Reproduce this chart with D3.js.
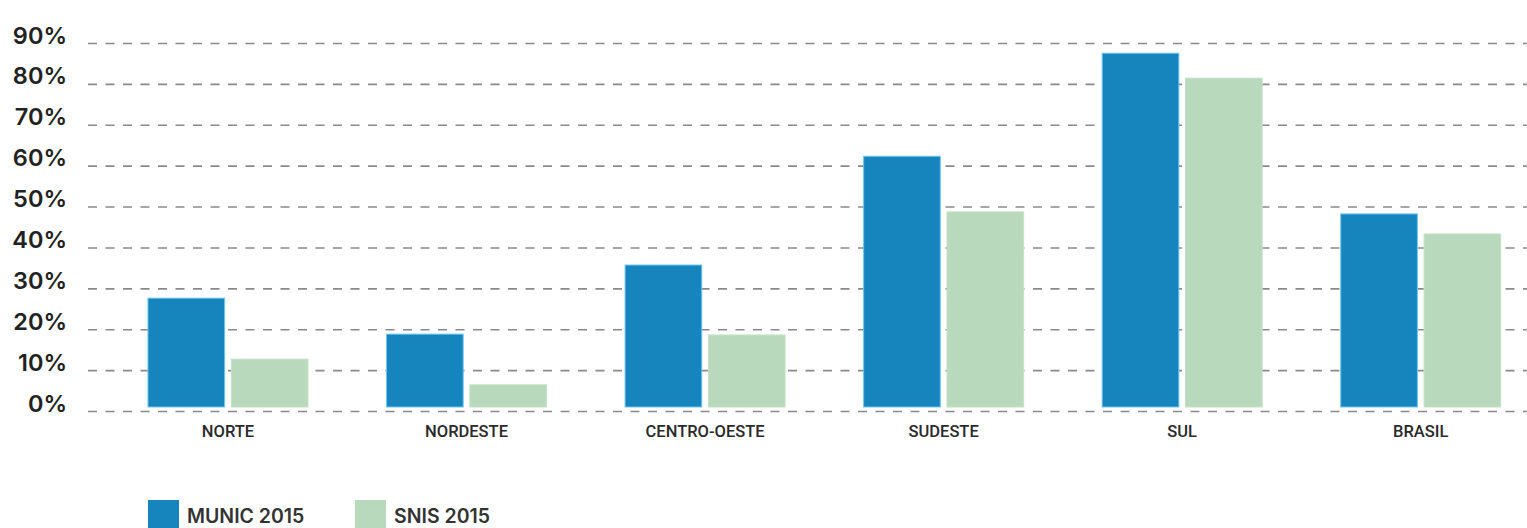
<!DOCTYPE html>
<html><head><meta charset="utf-8">
<script src="https://cdn.jsdelivr.net/npm/d3@7"></script>
<style>body{margin:0;background:#fff}</style>
</head><body>
<svg id="c" width="1527" height="528"></svg>
<script>
const categories = ["NORTE","NORDESTE","CENTRO-OESTE","SUDESTE","SUL","BRASIL"];
const seriesNames = ["MUNIC 2015","SNIS 2015"];
const munic = [27.6, 18.8, 35.7, 62.3, 87.5, 48.2];
const snis  = [12.7, 6.4, 18.6, 48.7, 81.4, 43.3];
const yTicks = [0,10,20,30,40,50,60,70,80,90];
const colors = ["#1785bd","#b8d9bc"];
const strokes = ["#6cc6ee","#c4e2c7"];

const svg = d3.select("#c");
const y = d3.scaleLinear().domain([0,90]).range([411,43]);
const x0 = d3.scaleBand().domain(categories).range([108.7,1540]).padding(0);
const groupW = 160;
const x1 = d3.scaleBand().domain(seriesNames).range([0,groupW]).paddingInner(0.08);

// gridlines
const grid = svg.append("g").attr("transform","translate(88,0)")
  .call(d3.axisRight(y).tickValues(yTicks).tickSize(1527-88).tickFormat(""));
grid.select(".domain").remove();
grid.selectAll(".tick line").attr("stroke","#8a8a8a").attr("stroke-width",1.6).attr("stroke-dasharray","9,8.5");

// y labels
const yl = svg.append("g").attr("transform","translate(67,0)")
  .call(d3.axisLeft(y).tickValues(yTicks).tickSize(0).tickFormat(d=>d+"%"));
yl.select(".domain").remove();
yl.selectAll("text").attr("dy","0").attr("x",0)
  .attr("font-family","Inter, Roboto, sans-serif").attr("font-weight",600)
  .attr("font-size",23.5).attr("fill","#222");

// bars
const data = categories.map((c,i)=>({c, vals:[munic[i], snis[i]]}));
const groups = svg.append("g").selectAll("g").data(data).join("g")
  .attr("transform",d=>`translate(${x0(d.c)+(x0.bandwidth()-groupW)/2},0)`);
groups.selectAll("rect").data(d=>d.vals.map((v,j)=>({v,s:seriesNames[j],j})))
  .join("rect")
  .attr("x",d=>x1(d.s)).attr("width",x1.bandwidth())
  .attr("y",d=>y(d.v)).attr("height",d=>y(0)-4-y(d.v))
  .attr("fill",d=>colors[d.j]).attr("stroke",d=>strokes[d.j]).attr("stroke-width",1);

// x labels
const xa = svg.append("g").attr("transform","translate(0,412)")
  .call(d3.axisBottom(x0).tickSize(0));
xa.select(".domain").remove();
xa.selectAll("text").attr("y",25).attr("dy","0")
  .attr("font-family","Roboto, sans-serif").attr("font-weight",500)
  .attr("font-size",16.5).attr("fill","#2a2a2a");

// legend
const legX = [148,355];
const lg = svg.append("g").selectAll("g").data(seriesNames).join("g")
  .attr("transform",(d,i)=>`translate(${legX[i]},500)`);
lg.append("rect").attr("width",31).attr("height",28).attr("fill",(d,i)=>colors[i]);
lg.append("text").attr("x",39).attr("y",22.5).text(d=>d)
  .attr("font-family","Inter, Roboto, sans-serif").attr("font-weight",600)
  .attr("font-size",19.5).attr("fill","#333");
</script>
</body></html>
